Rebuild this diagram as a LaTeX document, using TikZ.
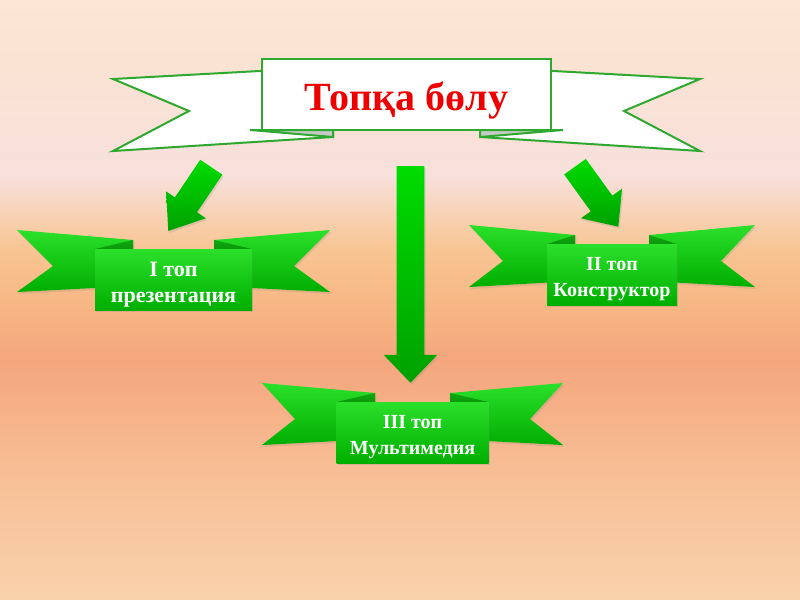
\documentclass[tikz,border=0pt]{standalone}
\usepackage{fontspec}
\setmainfont{Liberation Serif}
\usetikzlibrary{calc,shadows}
\definecolor{bgA}{HTML}{F9D2AC}
\definecolor{bgB}{HTML}{F7BE95}
\definecolor{bgC}{HTML}{F5A67D}
\definecolor{bgC2}{HTML}{F7B886}
\definecolor{bgD}{HTML}{F8C592}
\definecolor{bgE}{HTML}{F8E0DC}
\definecolor{bgF}{HTML}{FAE3D2}
\definecolor{bgG}{HTML}{FCE6D6}
\definecolor{gtop}{HTML}{2BE02B}
\definecolor{gbot}{HTML}{00AE00}
\definecolor{gfold}{HTML}{0A980A}
\definecolor{atop}{HTML}{00DC00}
\definecolor{abot}{HTML}{00A000}
\definecolor{bannergreen}{HTML}{2EA82E}
\definecolor{foldgrey}{HTML}{C6CAC6}
\definecolor{titlered}{HTML}{EE0000}
\pgfdeclareverticalshading{bgshade}{100bp}{color(0bp)=(bgA); color(25bp)=(bgA); color(35.8bp)=(bgB); color(45bp)=(bgC); color(50bp)=(bgC2); color(54.2bp)=(bgD); color(60.4bp)=(bgE); color(70bp)=(bgF); color(75bp)=(bgG); color(100bp)=(bgG)}
\tikzset{
  bannerline/.style={draw=bannergreen, line width=1.5pt},
  titlebox/.style={rectangle, bannerline, fill=white, inner sep=0pt,
    minimum width=216.75pt, minimum height=53.25pt, text=titlered,
    font=\bfseries\fontsize{30}{36}\selectfont},
  wing/.style={top color=gtop, bottom color=gbot,
    drop shadow={opacity=0.2, shadow xshift=1pt, shadow yshift=-1.5pt}},
  fold/.style={top color=gfold!80!gtop, bottom color=gfold},
  panel/.style={rectangle, inner sep=0pt, top color=gtop, bottom color=gbot,
    drop shadow={opacity=0.25, shadow xshift=1pt, shadow yshift=-1.5pt}},
  ribbontext/.style={text=white, align=center, inner sep=0pt},
  arrowfill/.style={top color=atop, bottom color=abot,
    drop shadow={opacity=0.2, shadow xshift=1pt, shadow yshift=-1.5pt}},
}
% #1 tail, #2 tip, #3 shaft half width, #4 head half width, #5 head length
\newcommand{\blockarrow}[5]{%
  \coordinate (#1-neck) at ($(#2)!#5!(#1)$);
  \path[arrowfill] ($(#1)!#3!90:(#2)$) -- ($(#1-neck)!#3!90:(#2)$)
    -- ($(#1-neck)!#4!90:(#2)$) -- (#2) -- ($(#1-neck)!#4!-90:(#2)$)
    -- ($(#1-neck)!#3!-90:(#2)$) -- ($(#1)!#3!-90:(#2)$) -- cycle;
}
% #1 name, #2 cx, #3 top of tips, #4 outer half width, #5 panel half width,
% #6 fold offset, #7 notch depth, #8 text, #9 font size
\newcommand{\ribbon}[9]{%
  \path[wing] ({#2-#4},#3) -- ({#2-#6},{#3+10}) -- ({#2-#6},{#3+56})
    -- ({#2-#4},{#3+62}) -- ({#2-#4+#7},{#3+36}) -- cycle;
  \path[wing] ({#2+#4},#3) -- ({#2+#6},{#3+10}) -- ({#2+#6},{#3+56})
    -- ({#2+#4},{#3+62}) -- ({#2+#4-#7},{#3+36}) -- cycle;
  \path[fold] ({#2-#5},{#3+19}) -- ({#2-#6},{#3+10}) -- ({#2-#6},{#3+19}) -- cycle;
  \path[fold] ({#2+#5},{#3+19}) -- ({#2+#6},{#3+10}) -- ({#2+#6},{#3+19}) -- cycle;
  \node[panel, minimum width={#5*1.5pt}, minimum height=45.75pt] (#1)
    at (#2,{#3+49.5}) {};
  \node[ribbontext, font=\bfseries\fontsize{#9}{19.5}\selectfont] (#1-text)
    at ($(#1.center)+(0,5)$) {#8};
}
\begin{document}
\begin{tikzpicture}[x=0.75pt, y=-0.75pt]
  \useasboundingbox (0,0) rectangle (800,600);
  \shade[shading=bgshade] (0,0) rectangle (800,600);

  % title banner
  \path[bannerline, fill=white] (113,79) -- (333,67) -- (333,137) -- (113,151) -- (189,111) -- cycle;
  \path[bannerline, fill=white] (700,79) -- (480,67) -- (480,137) -- (700,151) -- (624,111) -- cycle;
  \path[bannerline, fill=foldgrey] (250,130) -- (333,130) -- (333,137) -- cycle;
  \path[bannerline, fill=foldgrey] (563,130) -- (480,130) -- (480,137) -- cycle;
  \node[titlebox] (title) at (406.5,94.5) {\raisebox{-4.5pt}[\height][\depth]{Топқа бөлу}};

  % green ribbons
  \ribbon{g1}{173.5}{230}{156.5}{78.5}{40.5}{36}{I топ\\презентация}{16.5}
  \ribbon{g2}{612}{225}{143}{65}{37}{34}{II топ\\Конструктор}{15}
  \ribbon{g3}{412.5}{383}{150.5}{76}{37.5}{33}{III топ\\Мультимедия}{15}

  % arrows
  \coordinate (a1t) at (211.3,167.2);
  \coordinate (a1h) at (168.3,231);
  \blockarrow{a1t}{a1h}{10pt}{18pt}{23.7pt}
  \coordinate (a2t) at (575,166.7);
  \coordinate (a2h) at (618.3,226.7);
  \blockarrow{a2t}{a2h}{10pt}{19pt}{21.5pt}
  \coordinate (a3t) at (410.5,166);
  \coordinate (a3h) at (410.5,382.7);
  \blockarrow{a3t}{a3h}{10.35pt}{20pt}{20.8pt}
\end{tikzpicture}
\end{document}
